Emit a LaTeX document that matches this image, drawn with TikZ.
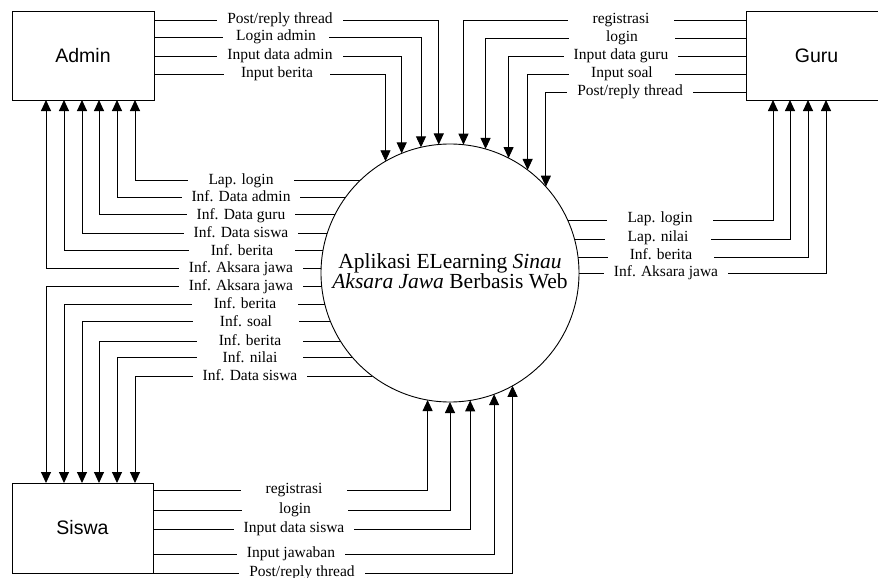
\documentclass[tikz,border=0pt]{standalone}
\usepackage{fontspec}
\setmainfont{Liberation Serif}
\newfontfamily\boxfont{Liberation Sans}
\usetikzlibrary{arrows.meta}
\begin{document}
\begin{tikzpicture}[x=1pt,y=1pt,line width=0.9pt,
  ent/.style={draw, inner sep=0pt, outer sep=0pt, font=\boxfont\fontsize{19.5}{22}\selectfont},
  proc/.style={circle, draw, minimum size=258pt, inner sep=0pt, outer sep=0pt},
  flow/.style={-{Triangle[length=11pt,width=10pt]}},
  lbl/.style={fill=white, inner xsep=10pt, inner ysep=0pt, minimum width=106pt,
    text height=0.9em, text depth=0.24em, font=\fontsize{15.5}{17}\selectfont}]
\useasboundingbox (0,0) rectangle (878,-578);
% entities and process
\node[ent, minimum width=142pt, minimum height=89pt] (admin) at (83,-55.5) {Admin};
\node[ent, minimum width=141pt, minimum height=89pt] (guru) at (816.5,-55.5) {Guru};
\node[ent, minimum width=141pt, minimum height=90pt] (siswa) at (82.5,-528) {Siswa};
\node[proc] (p) at (450,-273) {};
\node[align=center, inner sep=0pt, font=\fontsize{21.5}{20.5}\selectfont] (ptext) at (450,-271)
  {Aplikasi ELearning \textit{Sinau}\\\textit{Aksara Jawa} Berbasis Web};
% Admin -> process
\draw[flow] (admin.east |- 0,-20) -| (p.95.3);
\draw[flow] (admin.east |- 0,-37) -| (p.103.9);
\draw[flow] (admin.east |- 0,-56) -| (p.112.8);
\draw[flow] (admin.east |- 0,-74) -| (p.120.3);
% Guru -> process
\draw[flow] (guru.west |- 0,-20) -| (p.84.2);
\draw[flow] (guru.west |- 0,-38) -| (p.74.3);
\draw[flow] (guru.west |- 0,-56) -| (p.63.3);
\draw[flow] (guru.west |- 0,-74) -| (p.53.9);
\draw[flow] (guru.west |- 0,-92) -| (p.42.6);
% process -> Admin
\draw[flow] (p.134.5) -| (admin.south -| 135,0);
\draw[flow] (p.144.5) -| (admin.south -| 117,0);
\draw[flow] (p.153.8) -| (admin.south -| 99,0);
\draw[flow] (p.162.4) -| (admin.south -| 82,0);
\draw[flow] (p.170.6) -| (admin.south -| 64,0);
\draw[flow] (p.178.2) -| (admin.south -| 46,0);
% process -> Siswa
\draw[flow] (p.186.2) -| (siswa.north -| 46,0);
\draw[flow] (p.194.4) -| (siswa.north -| 64,0);
\draw[flow] (p.202.8) -| (siswa.north -| 82,0);
\draw[flow] (p.212.3) -| (siswa.north -| 99,0);
\draw[flow] (p.221.8) -| (siswa.north -| 117,0);
\draw[flow] (p.233.7) -| (siswa.north -| 135,0);
% process -> Guru
\draw[flow] (p.24.7) -| (guru.south -| 773,0);
\draw[flow] (p.15.7) -| (guru.south -| 790,0);
\draw[flow] (p.7.6) -| (guru.south -| 808,0);
\draw[flow] (p.0) -| (guru.south -| 826,0);
% Siswa -> process
\draw[flow] (siswa.east |- 0,-490) -| (p.260.2);
\draw[flow] (siswa.east |- 0,-510) -| (p.270);
\draw[flow] (siswa.east |- 0,-529) -| (p.279.8);
\draw[flow] (siswa.east |- 0,-554) -| (p.290.9);
\draw[flow] (siswa.east |- 0,-573) -| (p.299.2);
% labels
\node[lbl] (la1) at (280,-20) {Post/reply thread};
\node[lbl] (la2) at (276,-37) {Login admin};
\node[lbl] (la3) at (280,-56) {Input data admin};
\node[lbl] (la4) at (277,-74) {Input berita};
\node[lbl] (lg1) at (621,-20) {registrasi};
\node[lbl] (lg2) at (622,-38) {login};
\node[lbl] (lg3) at (621,-56) {Input data guru};
\node[lbl] (lg4) at (622,-74) {Input soal};
\node[lbl] (lg5) at (630,-92) {Post/reply thread};
\node[lbl] (lb1) at (241,-181) {Lap. login};
\node[lbl] (lb2) at (241,-198) {Inf. Data admin};
\node[lbl] (lb3) at (241,-216) {Inf. Data guru};
\node[lbl] (lb4) at (241,-234) {Inf. Data siswa};
\node[lbl] (lb5) at (242,-252) {Inf. berita};
\node[lbl] (lb6) at (241,-269) {Inf. Aksara jawa};
\node[lbl] (lc1) at (241,-287) {Inf. Aksara jawa};
\node[lbl] (lc2) at (245,-305) {Inf. berita};
\node[lbl] (lc3) at (246,-323) {Inf. soal};
\node[lbl] (lc4) at (250,-342) {Inf. berita};
\node[lbl] (lc5) at (250,-359) {Inf. nilai};
\node[lbl] (lc6) at (250,-377) {Inf. Data siswa};
\node[lbl] (ld1) at (660,-219) {Lap. login};
\node[lbl] (ld2) at (658,-238) {Lap. nilai};
\node[lbl] (ld3) at (661,-256) {Inf. berita};
\node[lbl] (ld4) at (666,-273) {Inf. Aksara jawa};
\node[lbl] (ls1) at (294,-490) {registrasi};
\node[lbl] (ls2) at (295,-510) {login};
\node[lbl] (ls3) at (294,-529) {Input data siswa};
\node[lbl] (ls4) at (291,-554) {Input jawaban};
\node[lbl] (ls5) at (302,-573) {Post/reply thread};
\end{tikzpicture}
\end{document}
